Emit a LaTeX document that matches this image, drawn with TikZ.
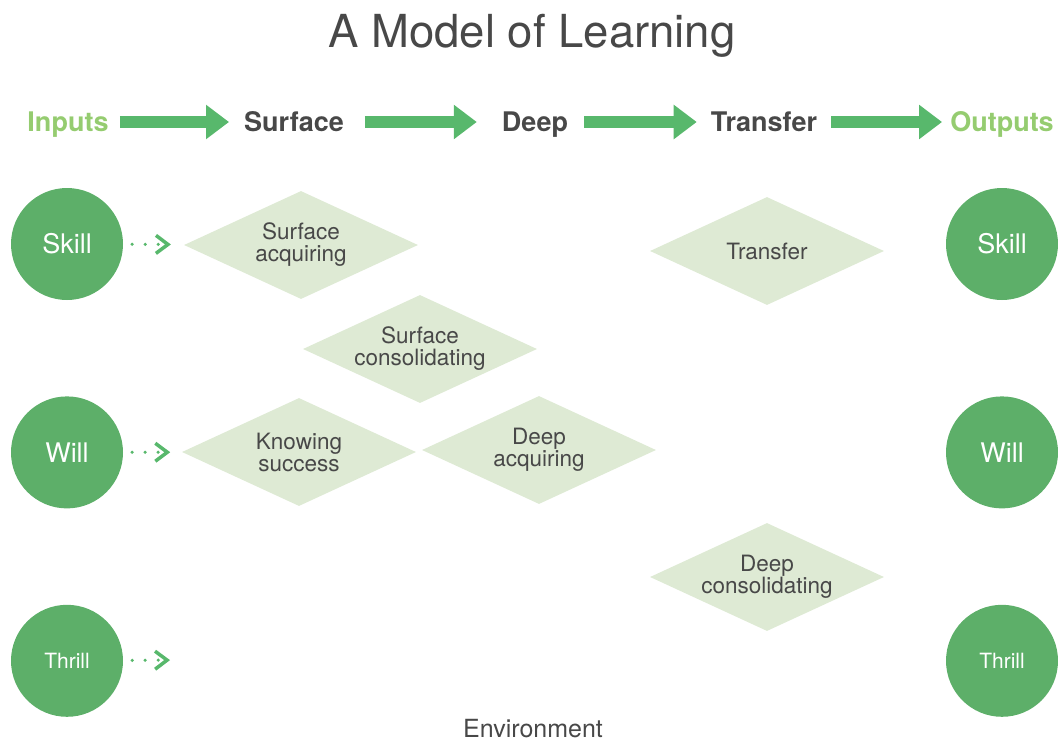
\documentclass[tikz,border=0pt]{standalone}
\usepackage{fontspec}
\setmainfont{TeX Gyre Heros}
\definecolor{LeafGreen}{HTML}{5DAF69}
\definecolor{ArrowGreen}{HTML}{58B86C}
\definecolor{LimeText}{HTML}{95CC70}
\definecolor{PaleGreen}{HTML}{DEEAD4}
\definecolor{SlateText}{HTML}{484848}
\usetikzlibrary{arrows.meta}
\usetikzlibrary{shapes.geometric}
\usetikzlibrary{positioning}

\begin{document}
\begin{tikzpicture}[x=1pt,y=-1pt,
    node distance=96pt and 96pt,
    head/.style={inner sep=0pt,
      text height=20pt,
      text depth=0.6pt,
      font=\bfseries\fontsize{27}{29}\selectfont},
    ball/.style={shape=circle,
      minimum size=112pt,
      inner sep=0pt,
      fill=LeafGreen,
      text=white,
      font=\fontsize{27}{29}\selectfont},
    stage/.style={shape=diamond,
      aspect=2.15,
      inner sep=0pt,
      minimum width=234pt,
      minimum height=108pt,
      fill=PaleGreen,
      text=SlateText,
      align=center,
      font=\fontsize{22.5}{22}\selectfont},
    flow/.style={draw=ArrowGreen,
      line width=12pt,
      -{Triangle[length=23pt,width=33pt]}},
    hint/.style={draw=ArrowGreen,
      line width=3.5pt,
      line cap=round,
      dash pattern=on 0pt off 13pt,
      shorten <=9pt,
      -{Straight Barb[length=12pt,width=18pt,line width=3.5pt]}}]

    \path [use as bounding box] (0,0) rectangle (1058,744);

    \node[name=title,
      text=SlateText,
      font=\fontsize{45.5}{47}\selectfont] at (532,36) {A Model of Learning};

    % header row
    \node[name=inputs, head, text=LimeText] at (68,122) {Inputs};
    \node[name=surface, head, text=SlateText] at (294,122) {Surface};
    \node[name=deep, head, text=SlateText] at (535,122) {Deep};
    \node[name=transfer, head, text=SlateText] at (764,122) {Transfer};
    \node[name=outputs, head, text=LimeText] at (1002,122) {Outputs};

    \path (inputs) edge[flow, shorten <=11pt, shorten >=15pt] (surface);
    \path (surface) edge[flow, shorten <=21pt, shorten >=25pt] (deep);
    \path (deep) edge[flow, shorten <=16pt, shorten >=14pt] (transfer);
    \path (transfer) edge[flow, shorten <=14pt, shorten >=8pt] (outputs);

    % inputs
    \node[name=skillL, ball] at (67,244) {Skill};
    \node[name=willL, ball, below=of skillL] {Will};
    \node[name=thrillL, ball,
      font=\fontsize{21}{23}\selectfont,
      below=of willL] {Thrill};

    % outputs
    \node[name=skillR, ball] at (1002,244) {Skill};
    \node[name=willR, ball, below=of skillR] {Will};
    \node[name=thrillR, ball,
      font=\fontsize{21}{23}\selectfont,
      below=of willR] {Thrill};

    % stages
    \node[name=sacq, stage] at (301,245) {Surface\\acquiring};
    \node[name=scons, stage] at (420,349) {Surface\\consolidating};
    \node[name=know, stage] at (299,452) {Knowing\\success};
    \node[name=dacq, stage] at (539,450) {Deep\\acquiring};
    \node[name=trans, stage] at (767,251) {Transfer};
    \node[name=dcons, stage] at (767,577) {Deep\\consolidating};

    \coordinate (thrillend) at (185,660);

    \path (skillL) edge[hint, shorten >=14pt] (sacq);
    \path (willL) edge[hint, shorten >=12pt] (know);
    \path (thrillL) edge[hint, shorten >=15pt] (thrillend);

    \node[name=env,
      inner sep=0pt,
      text=SlateText,
      font=\fontsize{25}{27}\selectfont] at (533,729) {Environment};
  \end{tikzpicture}
\end{document}
